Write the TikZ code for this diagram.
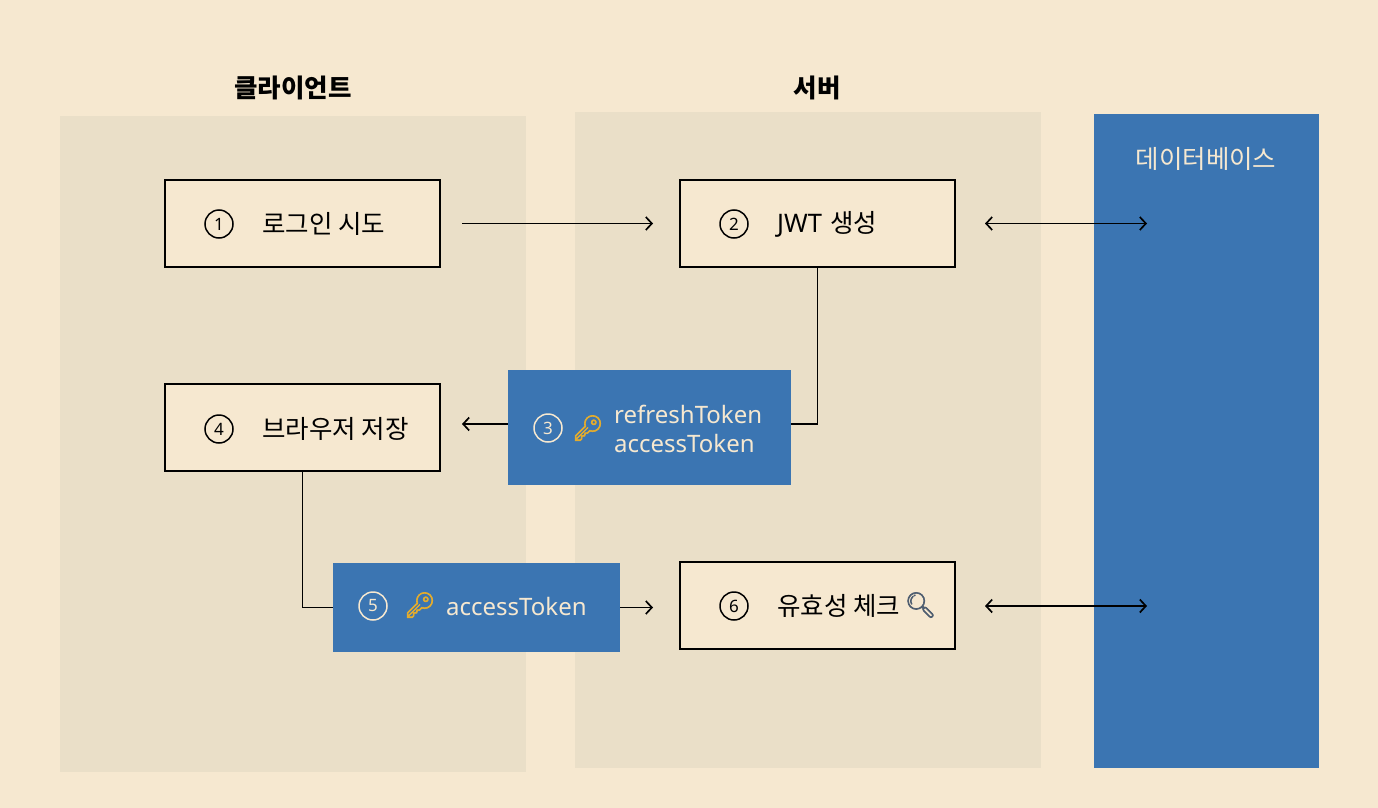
\documentclass[tikz,border=0pt]{standalone}
\usepackage{fontspec}
\setmainfont{Noto Sans CJK KR}
\newfontfamily\lat{Noto Sans}
\newfontfamily\emo[FakeBold=2.5]{Noto Emoji}
\usetikzlibrary{arrows.meta}
\definecolor{bg}{HTML}{F6E8D0}
\definecolor{lane}{HTML}{EADFC8}
\definecolor{blu}{HTML}{3B75B2}
\definecolor{gold}{HTML}{E3AC2E}
\definecolor{lens}{HTML}{4F5E70}
\begin{document}
\begin{tikzpicture}[x=1pt,y=-1pt,
  lanebox/.style={fill=lane, draw=none, inner sep=0, minimum width=466pt, minimum height=656pt},
  stepbox/.style={draw=black, line width=2pt, fill=bg, minimum width=275pt, minimum height=87pt, inner sep=0},
  tokbox/.style={fill=blu, draw=none, inner sep=0},
  numc/.style={circle, draw=#1, text=#1, line width=1.5pt, minimum size=28pt, inner sep=0, font=\lat\fontsize{17}{17}\selectfont},
  lbl/.style={anchor=west, inner sep=0, font=\fontsize{25.5}{25.5}\selectfont},
  ltok/.style={anchor=west, inner sep=0, text=bg, align=left, font=\lat\fontsize{24}{29}\selectfont},
  keyc/.style={inner sep=0, text=gold, font=\emo\fontsize{25}{25}\selectfont},
  title/.style={inner sep=0, font=\bfseries\fontsize{25.5}{25.5}\selectfont},
  conn/.style={line width=1.7pt, draw=black},
  arr/.style={conn, -{Straight Barb[length=6pt,width=13pt,line width=1.7pt]}},
  darr/.style={conn, {Straight Barb[length=6pt,width=13pt,line width=1.7pt]}-{Straight Barb[length=6pt,width=13pt,line width=1.7pt]}}
]
\fill[bg] (0,0) rectangle (1378,808);
\useasboundingbox (0,0) rectangle (1378,808);

% lanes
\node[lanebox] (lc) at (293,444) {};
\node[lanebox] (ls) at (808,440) {};
\node[tokbox, minimum width=225pt, minimum height=654pt] (db) at (1206.5,441) {};

% titles
\node[title] (tc) at (293,88) {클라이언트};
\node[title] (tsv) at (817,88) {서버};
\node[inner sep=0, text=bg, font=\fontsize{25.5}{25.5}\selectfont] (tdb) at (1206,159) {데이터베이스};

% step boxes
\node[stepbox] (b1) at (302.5,223.5) {};
\node[numc=black] (n1) at (219,224) {1};
\node[lbl] (t1) at (262,224) {로그인 시도};

\node[stepbox] (b2) at (817.5,223.5) {};
\node[numc=black] (n2) at (734,224) {2};
\node[lbl] (t2) at (777,224) {{\lat\fontsize{25.5}{25.5}\selectfont JWT}\hspace{8pt}생성};

\node[stepbox] (b4) at (302.5,427.5) {};
\node[numc=black] (n4) at (219,429) {4};
\node[lbl] (t4) at (262,429) {브라우저 저장};

\node[stepbox] (b6) at (817.5,605.5) {};
\node[numc=black] (n6) at (734,606) {6};
\node[lbl] (t6) at (777,606) {유효성 체크};
\node[anchor=west, inner sep=0, text=lens, font=\emo\fontsize{25}{25}\selectfont] (mg) at ([xshift=4pt,yshift=1pt]t6.east) {🔍};

% token boxes
\node[tokbox, minimum width=283pt, minimum height=115pt] (s3) at (649.5,427.5) {};
\node[numc=bg] (n3) at (548,428) {3};
\node[keyc] (k3) at (588,428) {🔑};
\node[ltok] (t3) at (614,429) {refreshToken\\accessToken};

\node[tokbox, minimum width=287pt, minimum height=89pt] (s5) at (476.5,607.5) {};
\node[numc=bg] (n5) at (373,606) {5};
\node[keyc] (k5) at (420,605) {🔑};
\node[ltok] (t5) at (446,606) {accessToken};

% connectors
\coordinate (d1) at (1147,223.5);
\coordinate (d2) at (1147,606);
\draw[arr, shorten <=21pt, shorten >=26pt] (b1) -- (b2);
\draw[darr, shorten <=29pt] (b2.east) -- (d1);
\draw[conn] (b2.south) |- ([yshift=3.5pt]s3.east);
\draw[arr, shorten >=21pt] ([yshift=3.5pt]s3.west) -- ([yshift=3.5pt]s3.west -| b4.east);
\draw[conn] (b4.south) |- (s5.west);
\draw[arr, shorten >=26pt] (s5.east) -- (s5.east -| b6.west);
\draw[darr, shorten <=29pt] (b6.east |- d2) -- (d2);
\end{tikzpicture}
\end{document}
